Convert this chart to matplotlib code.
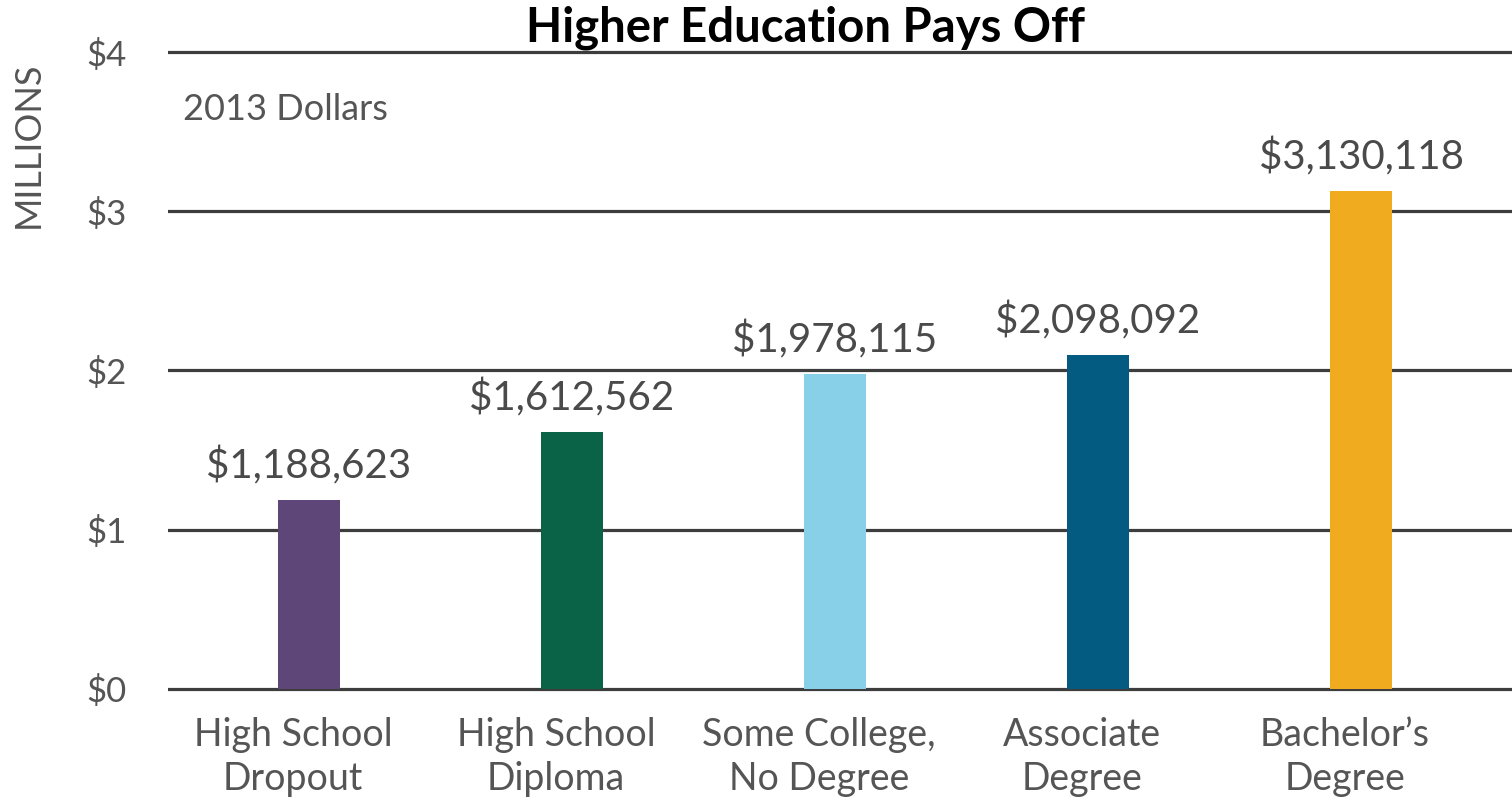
import matplotlib.pyplot as plt
from matplotlib.transforms import ScaledTranslation

# data
categories = ["High School\nDropout", "High School\nDiploma", "Some College,\nNo Degree",
              "Associate\nDegree", "Bachelor\u2019s\nDegree"]
earnings = [1188623, 1612562, 1978115, 2098092, 3130118]
bar_colors = ["#5e4679", "#0b6347", "#88d0e8", "#045b82", "#f0ab1e"]
y_ticks = [0, 1, 2, 3, 4]
y_tick_labels = ["$0", "$1", "$2", "$3", "$4"]

plt.rcParams['font.family'] = ['Lato', 'DejaVu Sans']

fig = plt.figure(figsize=(15.12, 8.01), dpi=100)
ax = fig.add_axes([168 / 1512, (801 - 704.9) / 801, 1 - 168 / 1512, (704.9 - 36.1) / 801])

x = list(range(len(categories)))
vals = [v / 1e6 for v in earnings]

# gridlines under the bars
for t in y_ticks:
    ax.axhline(t, color="#3d3d3d", lw=2.3, zorder=1)

ax.bar(x, vals, width=0.235, color=bar_colors, zorder=2)

for xi, v, raw in zip(x, vals, earnings):
    ax.text(xi, v + 0.09, f"${raw:,}", ha="center", va="bottom", fontsize=29,
            color="#4a4a4a")

ax.set_xlim(-0.536, 4.574)
ax.set_ylim(-0.1, 4.1)
ax.set_yticks(y_ticks)
ax.set_yticklabels(y_tick_labels, fontsize=25, color="#555555")
ax.set_xticks(x)
ax.set_xticklabels(categories, fontsize=27, color="#555555", linespacing=1.25)
ax.tick_params(axis="y", length=0, pad=30)
ax.tick_params(axis="x", length=0, pad=9)
# category labels sit a little left of the bars in the original
shift = ScaledTranslation(-16 / 100, 0, fig.dpi_scale_trans)
for lab in ax.get_xticklabels():
    lab.set_transform(lab.get_transform() + shift)
for s in ax.spines.values():
    s.set_visible(False)
ax.patch.set_visible(False)

fig.text(28 / 1512, 1 - 145 / 801, "MILLIONS", rotation=90, ha="center", va="center",
         fontsize=26, color="#555555")
fig.text(183 / 1512, 1 - 110 / 801, "2013 Dollars", ha="left", va="center",
         fontsize=26, color="#555555")
fig.text(806 / 1512, 1 - 28 / 801, "Higher Education Pays Off", ha="center", va="center",
         fontsize=34, fontweight="bold", color="black")

fig.savefig("out.png", dpi=100)
